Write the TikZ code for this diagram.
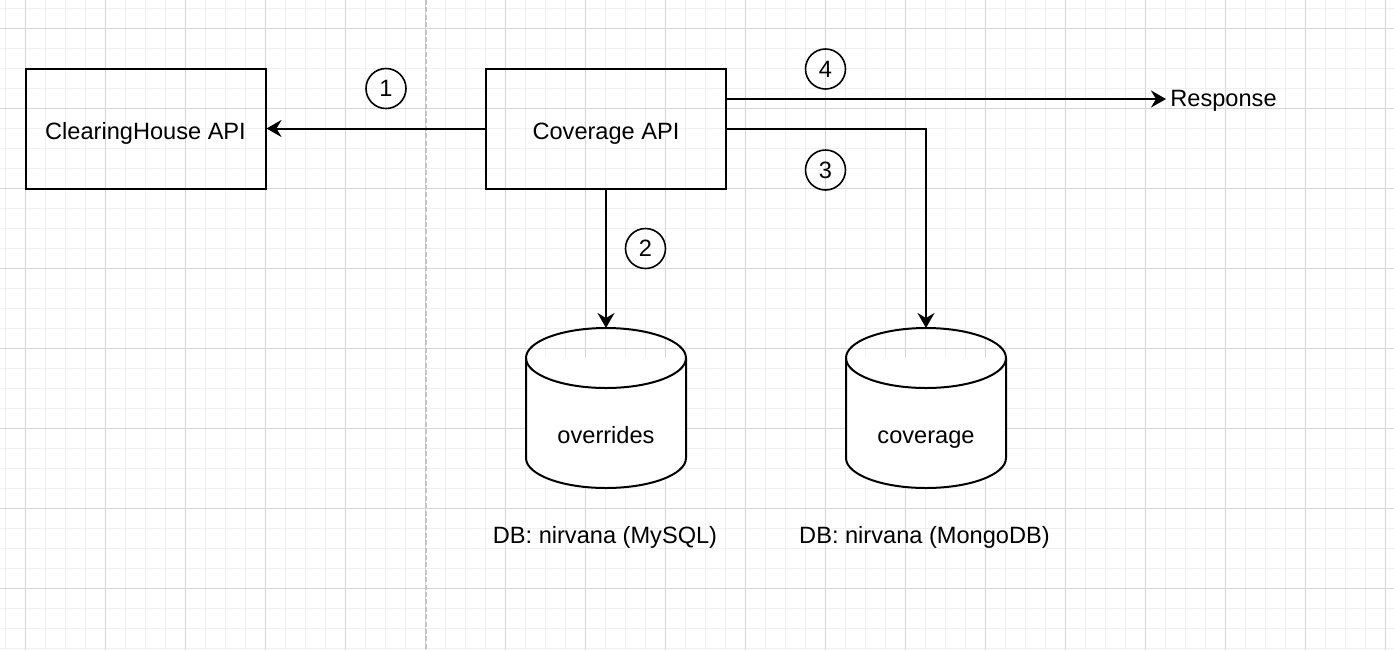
\documentclass[tikz,border=0pt]{standalone}
\usepackage{fontspec}
\setmainfont{Liberation Sans}
\usetikzlibrary{arrows.meta,calc}
\definecolor{gridminor}{HTML}{F0F0F0}
\definecolor{gridmajor}{HTML}{D6D6D6}
\definecolor{divider}{HTML}{C4C4C4}
\tikzset{
  txt/.style={font=\fontsize{11.8}{14}\selectfont, inner sep=0pt},
  apibox/.style={draw, line width=1pt, minimum width=120pt, minimum height=60pt, txt, text height=10.9pt, text depth=0pt},
  numcirc/.style={draw, circle, line width=0.8pt, minimum size=20pt, inner sep=0pt, txt, text height=8.4pt, text depth=0pt},
  conn/.style={line width=1pt, -{Stealth[length=7.5pt, width=8.5pt, inset=2.5pt]}},
  dbshape/.style={line width=1pt},
}
\begin{document}
\begin{tikzpicture}[x=0.5pt, y=-0.5pt]
\useasboundingbox (0,0) rectangle (1394,650);
\fill[white] (0,0) rectangle (1394,650);
% grid
\foreach \x in {5,25,...,1394} \draw[gridminor, line width=0.5pt] (\x,0) -- (\x,650);
\foreach \y in {8,28,...,650} \draw[gridminor, line width=0.5pt] (0,\y) -- (1394,\y);
\foreach \x in {25,105,...,1394} \draw[gridmajor, line width=0.5pt] (\x,0) -- (\x,650);
\foreach \y in {28,108,...,650} \draw[gridmajor, line width=0.5pt] (0,\y) -- (1394,\y);
% divider
\draw[divider, line width=0.75pt, dash pattern=on 2.5pt off 1.2pt] (426,0) -- (426,650);

% boxes
\node[apibox] (ch) at (145.5,128.5) {ClearingHouse API};
\node[apibox] (cov) at (606,128.5) {Coverage API};

% cylinders
\draw[dbshape, fill=white] (526,358) -- (526,458) arc[start angle=180, end angle=360, x radius=40pt, y radius=15pt] -- (686,358);
\draw[dbshape] (606,358) ellipse [x radius=40pt, y radius=15pt];
\coordinate (ovrtop) at (606,328);
\node[txt, anchor=base] (ovr) at (606,443) {overrides};

\draw[dbshape, fill=white] (846,358) -- (846,458) arc[start angle=180, end angle=360, x radius=40pt, y radius=15pt] -- (1006,358);
\draw[dbshape] (926,358) ellipse [x radius=40pt, y radius=15pt];
\coordinate (cvgtop) at (926,328);
\node[txt, anchor=base] (cvg) at (926,443) {coverage};

\node[txt, anchor=base] (ovrlbl) at (605,543) {DB: nirvana (MySQL)};
\node[txt, anchor=base] (cvglbl) at (924.5,543) {DB: nirvana (MongoDB)};

% response
\node[txt, text height=7pt, text depth=0pt, anchor=west] (resp) at (1170,99) {Response};

% connectors
\coordinate (covne) at (cov.north east |- resp.west);
\coordinate (bend3) at (926,128.5);
\draw[conn] (cov.west) -- (ch.east);
\draw[conn] (cov.south) -- (ovrtop);
\draw[conn] (cov.east) -- (bend3) -- (cvgtop);
\draw[conn, shorten >=2pt] (covne) -- (resp.west);

% numbers
\node[numcirc] (n1) at (386,88.5) {1};
\node[numcirc] (n2) at (645.5,248.5) {2};
\node[numcirc] (n3) at (825.5,170) {3};
\node[numcirc] (n4) at (825.5,69) {4};
\end{tikzpicture}
\end{document}
